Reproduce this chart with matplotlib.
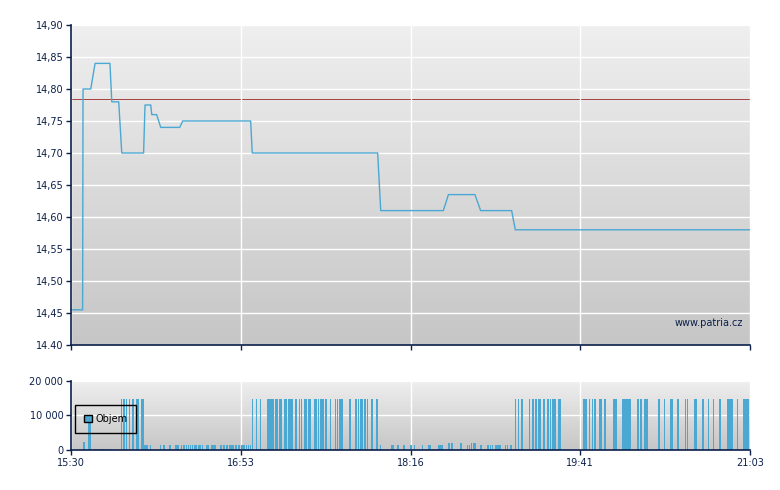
import numpy as np
import matplotlib
matplotlib.use("Agg")
import matplotlib.pyplot as plt
from matplotlib.patches import Patch
from matplotlib.colors import LinearSegmentedColormap

# ---------------- data ----------------
# price path: minutes after 15:30 and price
price_min = [0, 5.7, 5.9, 9.7, 11.8, 19.1, 20.0, 23.4, 24.9, 35.6, 36.3, 39.1, 39.6, 42.0,
             44.0, 53.3, 54.8, 88.1, 88.9, 150.4, 151.9, 182.6, 185.1, 198.1, 200.9,
             216.1, 217.9, 333]
price_val = [14.455, 14.455, 14.80, 14.80, 14.84, 14.84, 14.78, 14.78, 14.70, 14.70,
             14.775, 14.775, 14.76, 14.76, 14.74, 14.74, 14.75, 14.75, 14.70, 14.70,
             14.61, 14.61, 14.635, 14.635, 14.61, 14.61, 14.58, 14.58]
prev_close = 14.785

# volume bars: minutes after 15:30 and volume
vol_min = [6.4, 8.5, 9.2,
           12.1, 13.1, 14.1, 15.1, 16.0, 17.0, 18.0, 19.0,
           24.8, 25.9, 27.2, 28.8, 30.2, 30.7, 32.4, 32.8, 34.6, 35.2,
           36.4, 37.4, 38.9, 43.8, 45.5, 48.5, 51.5, 52.6, 54.3, 55.4, 56.7, 57.7, 58.7,
           59.7, 60.7, 61.6, 62.6, 63.3, 64.6, 66.5, 67.2, 69.0, 69.6, 70.5, 73.6, 75.0,
           76.5, 77.7, 78.5, 79.4, 80.9, 82.4, 83.9, 84.5, 85.1, 86.0, 87.0, 88.0,
           88.9, 90.9, 92.9, 96.3, 96.9, 97.4, 98.0, 98.6, 99.2, 100.3, 100.9, 102.2, 102.9,
           104.7, 105.4, 106.6, 107.5, 108.5, 110.1, 110.7, 112.1, 113.1, 114.4, 115.2,
           116.6, 117.5, 119.7, 120.4, 121.4, 122.6, 123.2, 123.9, 125.1, 127.2, 129.8,
           130.7, 131.8, 133.0, 136.7, 139.8, 141.1, 142.1, 142.9, 144.3, 145.5, 147.3,
           147.9, 150.2,
           151.7, 157.2, 157.8, 160.4, 163.3, 166.4, 167.1, 168.4, 172.3, 175.3, 176.1,
           180.5, 181.5, 182.3, 185.1, 185.7, 186.8, 191.0, 191.6, 194.5, 195.4, 196.4,
           197.4, 198.1, 200.9, 201.4, 204.6, 205.8, 206.8, 208.1, 208.7, 209.3, 210.5,
           213.0, 214.1, 215.8,
           217.9, 219.5, 221.2, 224.9, 226.6, 227.8, 228.4, 229.3, 229.8, 230.3, 232.0,
           233.9, 235.2, 236.4, 237.3, 239.0, 239.5, 239.9, 251.3, 251.9, 252.6, 254.3,
           255.8, 256.9, 259.4, 260.2, 261.9, 266.4, 267.4, 270.5, 271.2, 272.2, 273.2,
           273.6, 274.1, 278.1, 279.5, 281.5, 282.5, 288.4, 291.1, 293.9, 294.5, 295.1,
           297.7, 301.4, 302.3, 305.8, 306.4, 309.9, 312.6, 315.0, 318.4, 322.3, 323.2,
           324.3, 326.8, 329.8, 330.5, 331.4, 332.0]
vol_val = ([2300, 8700, 8700] + [400] * 8 + [14600] * 10 + [1350] * 38 + [14600] * 48 +
           [1400] * 14 + [2100] * 5 + [1400] * 2 + [2100] * 3 + [1500] * 2 + [1400] * 10 +
           [14600] * 61)

x_ticks = [0, 83.25, 166.5, 249.75, 333]
x_labels = ["15:30", "16:53", "18:16", "19:41", "21:03"]
p_ticks = [14.40, 14.45, 14.50, 14.55, 14.60, 14.65, 14.70, 14.75, 14.80, 14.85, 14.90]
p_labels = ["14.40", "14,45", "14,50", "14,55", "14,60", "14,65", "14,70", "14,75",
            "14,80", "14,85", "14,90"]
v_ticks = [0, 10000, 20000]
v_labels = ["0", "10 000", "20 000"]

# ---------------- style ----------------
BLUE = "#4aa8d2"
NAVY = "#0c1f4a"
grad = LinearSegmentedColormap.from_list("g", ["#c6c6c6", "#efefef"])

W, H = 780, 490
fig = plt.figure(figsize=(W / 100, H / 100), dpi=100)
L, R = 71 / W, 750 / W
ax = fig.add_axes([L, 1 - 345 / H, R - L, (345 - 25) / H])
axv = fig.add_axes([L, 1 - 450 / H, R - L, (450 - 380.7) / H])


def style(a):
    a.imshow(np.linspace(0, 1, 256).reshape(-1, 1), extent=[0, 1, 0, 1],
             transform=a.transAxes, aspect="auto", cmap=grad, origin="lower", zorder=0)
    for s in ["top", "right"]:
        a.spines[s].set_visible(False)
    for s in ["left", "bottom"]:
        a.spines[s].set_color(NAVY)
        a.spines[s].set_linewidth(1.2)
        a.spines[s].set_zorder(5)
    a.tick_params(colors=NAVY, labelcolor=NAVY, labelsize=7, length=3.5, width=1, pad=2)
    a.set_xlim(0, 333)
    a.set_xticks(x_ticks)
    a.grid(True, color="white", linewidth=1, zorder=1)
    a.set_axisbelow(False)


style(ax)
ax.set_ylim(14.40, 14.90)
ax.set_yticks(p_ticks)
ax.set_yticklabels(p_labels)
ax.set_xticklabels([])
ax.plot(price_min, price_val, color=BLUE, lw=1.0, zorder=3)
ax.axhline(prev_close, color="#a84040", lw=0.7, zorder=2)
ax.text(0.990, 0.068, "www.patria.cz", transform=ax.transAxes, ha="right", va="center",
        fontsize=7, color=NAVY, zorder=4)

style(axv)
axv.set_ylim(0, 20000)
axv.set_yticks(v_ticks)
axv.set_yticklabels(v_labels)
axv.set_xticklabels(x_labels)
axv.bar(vol_min, vol_val, width=0.75, color=BLUE, linewidth=0, zorder=3)
leg = axv.legend(handles=[Patch(facecolor=BLUE, edgecolor="black", linewidth=1)],
                 labels=["Objem"], loc="upper left", bbox_to_anchor=(0.006, 0.645),
                 borderaxespad=0, fontsize=7, handlelength=0.8, handleheight=0.8,
                 handletextpad=0.4, borderpad=0.9, fancybox=False, framealpha=1,
                 edgecolor="black")
leg.get_frame().set_facecolor("none")
leg.get_frame().set_linewidth(1)
leg.set_zorder(6)

fig.savefig("out.png", dpi=100)
